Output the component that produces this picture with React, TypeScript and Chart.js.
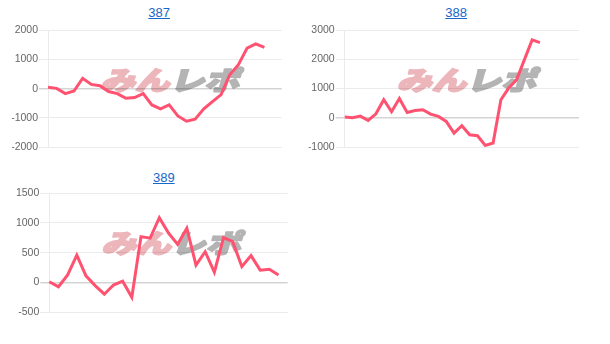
import React, { useEffect, useRef } from "react";
import { Chart, registerables } from "chart.js";

Chart.register(...registerables);

// ---- data ----
const title387 = "387";
const labels387 = ["1","2","3","4","5","6","7","8","9","10","11","12","13","14","15","16","17","18","19","20","21","22","23","24","25","26","27","28"];
const values387 = [45, 10, -170, -80, 350, 145, 100, -100, -170, -330, -305, -170, -555, -690, -555, -930, -1110, -1040, -690, -440, -205, 475, 815, 1385, 1530, 1405];
const ticks387 = { min: -2000, max: 2000, step: 1000 };

const title388 = "388";
const labels388 = ["1","2","3","4","5","6","7","8","9","10","11","12","13","14","15","16","17","18","19","20","21","22","23","24","25","26","27","28","29","30","31"];
const values388 = [25, 0, 55, -90, 135, 615, 205, 660, 180, 250, 275, 125, 45, -125, -525, -270, -580, -615, -945, -865, 615, 1015, 1295, 1980, 2660, 2570];
const ticks388 = { min: -1000, max: 3000, step: 1000 };

const title389 = "389";
const labels389 = ["1","2","3","4","5","6","7","8","9","10","11","12","13","14","15","16","17","18","19","20","21","22","23","24","25","26","27"];
const values389 = [10, -75, 125, 460, 110, -55, -200, -45, 20, -250, 770, 745, 1090, 830, 640, 910, 290, 515, 170, 755, 685, 265, 450, 205, 220, 125];
const ticks389 = { min: -500, max: 1500, step: 500 };

const watermarkPink = "みん";
const watermarkGray = "レポ";

// ---- styling ----
const LINE_COLOR = "rgb(255, 82, 112)";
const FONT = "'Liberation Sans', Arial, Helvetica, sans-serif";

const watermarkPlugin = {
  id: "wm",
  beforeDraw(chart: any) {
    const { ctx, chartArea } = chart;
    ctx.save();
    ctx.translate(chartArea.left + 55, chartArea.top + 50);
    ctx.transform(1, 0, -0.28, 1, 0, 0);
    ctx.scale(1.2, 0.9);
    ctx.font = "900 29px 'Noto Sans CJK JP'";
    ctx.textBaseline = "middle";
    ctx.textAlign = "left";
    ctx.lineJoin = "round";
    ctx.lineWidth = 2;
    ctx.fillStyle = "#ecb6bb";
    ctx.strokeStyle = "#ecb6bb";
    ctx.strokeText(watermarkPink, 0, 0);
    ctx.fillText(watermarkPink, 0, 0);
    ctx.fillStyle = "#b4b4b4";
    ctx.strokeStyle = "#b4b4b4";
    ctx.strokeText(watermarkGray, 58, 0);
    ctx.fillText(watermarkGray, 58, 0);
    ctx.restore();
  },
};

type Box = { left: number; top: number; width: number; height: number; pad: { left: number; right: number; top: number; bottom: number } };

function LineChart(props: { labels: string[]; values: number[]; range: { min: number; max: number; step: number }; box: Box }) {
  const ref = useRef<HTMLCanvasElement | null>(null);
  useEffect(() => {
    if (!ref.current) return;
    const { labels, values, range, box } = props;
    const chart = new Chart(ref.current, {
      type: "line",
      data: {
        labels,
        datasets: [
          {
            data: values,
            borderColor: LINE_COLOR,
            backgroundColor: LINE_COLOR,
            borderWidth: 3,
            pointRadius: 0,
            pointHoverRadius: 0,
            tension: 0,
            fill: false,
          },
        ],
      },
      options: {
        responsive: false,
        animation: false,
        layout: { padding: box.pad },
        plugins: { legend: { display: false }, tooltip: { enabled: false }, title: { display: false } },
        scales: {
          x: { display: false },
          y: {
            min: range.min,
            max: range.max,
            afterFit(scale: any) {
              scale.width = 36;
            },
            ticks: {
              stepSize: range.step,
              color: "#666",
              padding: 1,
              font: { family: FONT, size: 10.5 },
              callback: (v: any) => String(v),
            },
            grid: {
              color: (c: any) => (c.tick && c.tick.value === 0 ? "rgba(0,0,0,0.17)" : "rgba(0,0,0,0.08)"),
              lineWidth: (c: any) => (c.tick && c.tick.value === 0 ? 1.5 : 1),
              tickLength: 9,
            },
            border: { display: true, color: "rgba(0,0,0,0.08)" },
          },
        },
      } as any,
      plugins: [watermarkPlugin],
    });
    return () => chart.destroy();
  }, []);
  const { box } = props;
  return (
    <canvas
      ref={ref}
      width={box.width}
      height={box.height}
      style={{ position: "absolute", left: box.left, top: box.top, width: box.width, height: box.height }}
    />
  );
}

function Title(props: { text: string; cx: number; top: number }) {
  return (
    <div
      style={{
        position: "absolute",
        left: props.cx - 40,
        width: 80,
        top: props.top,
        textAlign: "center",
        fontFamily: FONT,
        fontSize: 13,
        lineHeight: "15px",
      }}
    >
      <a href="#" style={{ color: "#1768c8", textDecoration: "underline" }}>
        {props.text}
      </a>
    </div>
  );
}

export default function App() {
  return (
    <div style={{ position: "absolute", left: 0, top: 0, width: 610, height: 344, background: "#fff" }}>
      <Title text={title387} cx={159.2} top={5} />
      <LineChart
        labels={labels387}
        values={values387}
        range={ticks387}
        box={{ left: 12, top: 20, width: 272, height: 138, pad: { left: 0, right: 2.3, top: 10, bottom: 10.7 } }}
      />
      <Title text={title388} cx={456.2} top={5} />
      <LineChart
        labels={labels388}
        values={values388}
        range={ticks388}
        box={{ left: 308, top: 20, width: 273, height: 137, pad: { left: 0.7, right: 2, top: 10, bottom: 10 } }}
      />
      <Title text={title389} cx={163.8} top={170} />
      <LineChart
        labels={labels389}
        values={values389}
        range={ticks389}
        box={{ left: 13, top: 183, width: 277, height: 139, pad: { left: 0.3, right: 2.3, top: 10.3, bottom: 10 } }}
      />
    </div>
  );
}
